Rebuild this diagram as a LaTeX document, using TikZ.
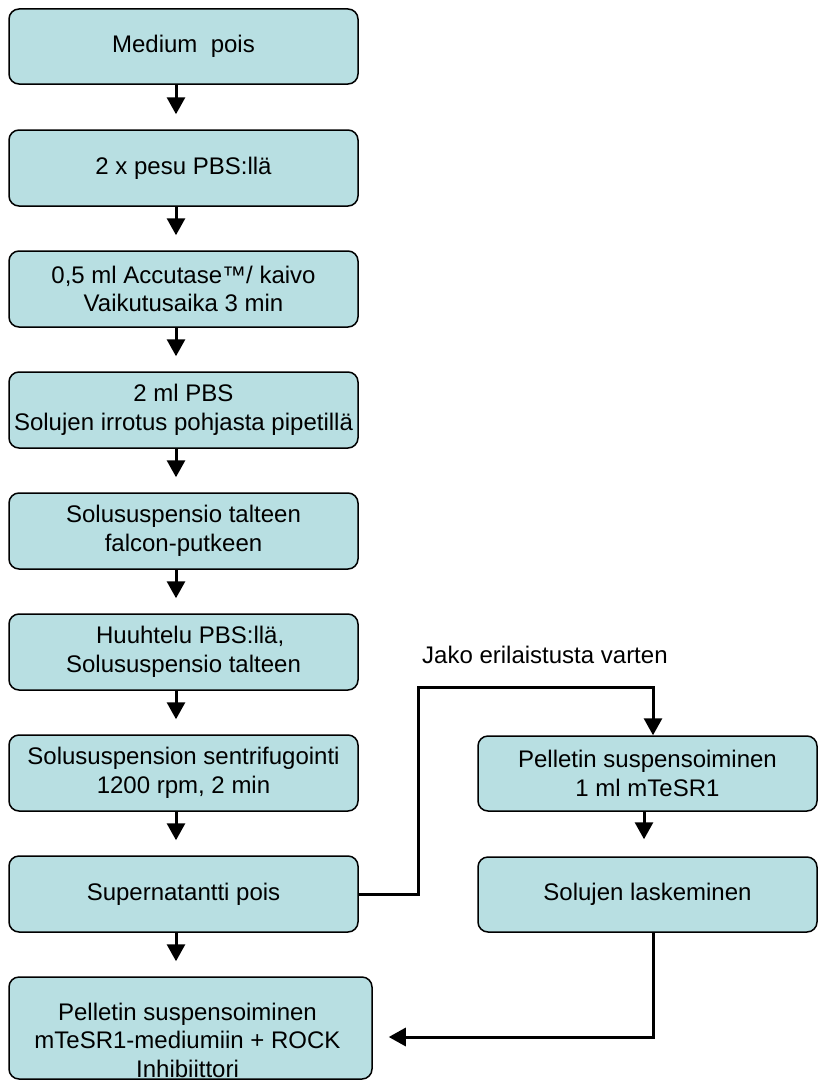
\documentclass[tikz,border=0pt]{standalone}
\usepackage{fontspec}
\setmainfont{Liberation Sans}
\usetikzlibrary{arrows.meta,calc}
\definecolor{boxfill}{RGB}{184,223,226}
\begin{document}
\begin{tikzpicture}[x=1pt,y=-1pt,
  stepbox/.style={draw=black,line width=1.5pt,fill=boxfill,rounded corners=10pt,
    inner sep=0pt,align=center,font=\fontsize{24}{28.5}\selectfont},
  leftbox/.style={stepbox,minimum width=349pt,minimum height=76pt},
  rightbox/.style={stepbox,minimum width=339pt,minimum height=75pt},
  plain/.style={inner sep=0pt,align=center,font=\fontsize{24}{28.5}\selectfont},
  flow/.style={line width=3pt,-{Triangle[width=18pt,length=17pt]}}]
\useasboundingbox (0,0) rectangle (818,1081);

% main column
\node[leftbox,minimum height=75pt] (b1) at (183.5,46.5) {Medium\ \ pois};
\node[leftbox] (b2) at (183.5,168) {2 x pesu PBS:llä};
\node[leftbox] (b3) at (183.5,289) {0,5 ml Accutase™/ kaivo\\Vaikutusaika 3 min};
\node[leftbox] (b4) at (183.5,410) {2 ml PBS\\Solujen irrotus pohjasta pipetillä};
\node[leftbox] (b5) at (183.5,531) {Solususpensio talteen\\falcon-putkeen};
\node[leftbox] (b6) at (183.5,652) {\ \ Huuhtelu PBS:llä,\\Solususpensio talteen};
\node[leftbox] (b7) at (183.5,773) {Solususpension sentrifugointi\\1200 rpm, 2 min};
\node[leftbox] (b8) at (183.5,894) {Supernatantti pois};
\node[stepbox,minimum width=363pt,minimum height=102pt] (b9) at (190.5,1028) {};
\node[plain] (b9t) at ($(b9.center)+(-3,12)$) {Pelletin suspensoiminen\\mTeSR1-mediumiin + ROCK\\Inhibiittori};

% side branch
\node[plain,anchor=west] (jako) at (422,655) {Jako erilaistusta varten};
\node[rightbox] (r1) at (647.5,773.5) {Pelletin suspensoiminen\\1 ml mTeSR1};
\node[rightbox] (r2) at (647.5,894.5) {Solujen laskeminen};

% connectors of the main column
\coordinate (ax) at (176,0);
\draw[flow] (b1.south -| ax) -- ($(b2.north -| ax)+(0,-15)$);
\draw[flow] (b2.south -| ax) -- ($(b3.north -| ax)+(0,-15)$);
\draw[flow] (b3.south -| ax) -- ($(b4.north -| ax)+(0,-15)$);
\draw[flow] (b4.south -| ax) -- ($(b5.north -| ax)+(0,-15)$);
\draw[flow] (b5.south -| ax) -- ($(b6.north -| ax)+(0,-15)$);
\draw[flow] (b6.south -| ax) -- ($(b7.north -| ax)+(0,-15)$);
\draw[flow] (b7.south -| ax) -- ($(b8.north -| ax)+(0,-15)$);
\draw[flow] (b8.south -| ax) -- ($(b9.north -| ax)+(0,-15)$);

% branch connectors
\coordinate (jtop) at (418,687);
\coordinate (jx) at (653,0);
\draw[flow] (b8.east) -| (jtop) -| (r1.north -| jx);
\coordinate (rx) at (644,0);
\draw[flow] (r1.south -| rx) -- ($(r2.north -| rx)+(0,-17)$);
\coordinate (rb) at (653,1037);
\draw[flow] (r2.south -| rb) |- ($(b9.east |- rb)+(16,0)$);
\end{tikzpicture}
\end{document}
